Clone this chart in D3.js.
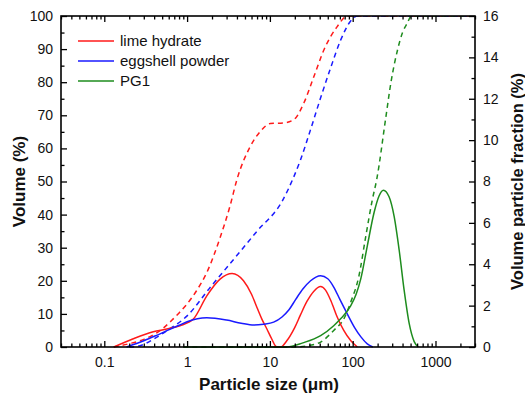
<!DOCTYPE html>
<html>
<head>
<meta charset="utf-8">
<script src="https://cdn.jsdelivr.net/npm/d3@7"></script>
<style>
  body { margin: 0; background: #fff; }
  text { font-family: "Liberation Sans", Arial, sans-serif; fill: #111; }
</style>
</head>
<body>
<div id="chart"></div>
<script>
// ---- data ----
const seriesNames = ['lime hydrate', 'eggshell powder', 'PG1'];
const seriesColors = ['#ff1a1a', '#1a1aff', '#1e8c1e'];

// particle fraction (%), right axis
const limeFreqX = [0.13, 0.22, 0.39, 0.57, 0.82, 1.19, 1.73, 2.5, 3.5, 4.8, 6, 7, 8, 9.2, 10.5, 11.7, 12.5, 13.5, 16, 20, 23.4, 28, 34, 41, 47, 55, 65, 78, 95, 114];
const limeFreqY = [0, 0.39, 0.74, 0.87, 1.03, 1.35, 2.47, 3.28, 3.55, 3.2, 2.55, 1.9, 1.35, 0.87, 0.4, 0.05, 0, 0, 0.3, 0.95, 1.55, 2.2, 2.7, 2.92, 2.75, 2.2, 1.45, 0.8, 0.3, 0];

const eggFreqX = [0.186, 0.3, 0.42, 0.57, 0.8, 1.0, 1.73, 3, 4.5, 6.4, 8.4, 11.1, 14, 17, 20.5, 25, 31, 36, 41, 50, 59, 70, 86, 105, 125, 150, 175];
const eggFreqY = [0, 0.3, 0.55, 0.79, 1.05, 1.22, 1.41, 1.3, 1.15, 1.06, 1.1, 1.2, 1.45, 1.8, 2.3, 2.8, 3.2, 3.38, 3.44, 3.3, 2.9, 2.3, 1.6, 0.95, 0.5, 0.15, 0];

const pgFreqX = [0.9, 16, 25, 41, 59, 71, 94.5, 110, 125, 150, 181, 208, 235, 275, 317, 364, 418, 481, 553, 619];
const pgFreqY = [0, 0, 0.2, 0.55, 1.03, 1.35, 1.99, 2.55, 3.28, 4.88, 6.49, 7.3, 7.58, 7.26, 6.3, 4.69, 2.75, 1.14, 0.26, 0];

// cumulative volume (%), left axis
const limeCumX = [0.13, 0.2, 0.3, 0.43, 0.52, 0.65, 0.8, 1.0, 1.3, 1.73, 2.5, 3.3, 4.0, 5.8, 7.7, 10.1, 14.7, 19.5, 25.7, 34, 45, 65, 86, 3000];
const limeCumY = [0, 1, 2.3, 4.3, 5.8, 8, 10.3, 13, 17, 22.5, 33, 42.6, 50.6, 60.6, 65.2, 67.5, 67.7, 68.7, 73.7, 81.7, 89.8, 96.8, 100, 100];

const eggCumX = [0.2, 0.27, 0.4, 0.57, 1.0, 1.9, 3.6, 7.0, 14.1, 19.2, 23.4, 30.9, 40.9, 54.1, 71.5, 94.6, 114.8, 3000];
const eggCumY = [0, 0.4, 2.5, 4.9, 9.4, 18, 26.3, 35, 44.1, 51.1, 56.5, 65.6, 75.2, 84.3, 92.7, 98.5, 100, 100];

const pgCumX = [0.9, 20, 30, 41, 59, 80, 94.5, 119, 144, 173, 195, 250, 290, 350, 400, 460, 510, 3000];
const pgCumY = [0, 0, 0.5, 1.5, 5, 9, 13.5, 21.5, 33.5, 44.6, 50.6, 69, 80, 90, 95, 98, 100, 100];

const xMajorTicks = [0.1, 1, 10, 100, 1000];
const yLeftTicks = [0, 10, 20, 30, 40, 50, 60, 70, 80, 90, 100];
const yRightTicks = [0, 2, 4, 6, 8, 10, 12, 14, 16];

const zip = (xs, ys) => xs.map((x, i) => ({x: x, y: ys[i]}));
const freqSeries = [zip(limeFreqX, limeFreqY), zip(eggFreqX, eggFreqY), zip(pgFreqX, pgFreqY)];
const cumSeries = [zip(limeCumX, limeCumY), zip(eggCumX, eggCumY), zip(pgCumX, pgCumY)];

// ---- layout ----
const W = 525, H = 396;
const margin = {top: 16, right: 50, bottom: 49, left: 61};
const plotW = W - margin.left - margin.right;
const plotH = H - margin.top - margin.bottom;

const svg = d3.select('#chart').append('svg')
    .attr('width', W)
    .attr('height', H);

const g = svg.append('g')
    .attr('transform', `translate(${margin.left},${margin.top})`);

const x = d3.scaleLog().domain([0.03, 3000]).range([0, plotW]);
const yL = d3.scaleLinear().domain([0, 100]).range([plotH, 0]);
const yR = d3.scaleLinear().domain([0, 16]).range([plotH, 0]);

const xMinor = x.ticks().filter(t => !xMajorTicks.some(m => Math.abs(m - t) < 1e-9));
const yLMinor = d3.range(5, 100, 10);
const yRMinor = d3.range(1, 16, 2);

// ---- curves ----
g.append('defs').append('clipPath').attr('id', 'clip')
    .append('rect').attr('width', plotW).attr('height', plotH + 1);

const plot = g.append('g').attr('clip-path', 'url(#clip)');

const lineL = d3.line().x(d => x(d.x)).y(d => yL(d.y)).curve(d3.curveMonotoneX);
const lineR = d3.line().x(d => x(d.x)).y(d => yR(d.y)).curve(d3.curveMonotoneX);

plot.selectAll('path.cum')
    .data(cumSeries)
    .enter().append('path')
    .attr('class', 'cum')
    .attr('d', lineL)
    .style('fill', 'none')
    .style('stroke', (d, i) => seriesColors[i])
    .style('stroke-width', 1.5)
    .style('stroke-dasharray', '5,4');

plot.selectAll('path.freq')
    .data(freqSeries)
    .enter().append('path')
    .attr('class', 'freq')
    .attr('d', lineR)
    .style('fill', 'none')
    .style('stroke', (d, i) => seriesColors[i])
    .style('stroke-width', 1.5);

// ---- axes (ticks point inward) ----
const styleAxis = sel => {
    sel.select('.domain').remove();
    sel.selectAll('line').style('stroke', '#000').style('stroke-width', 1.3);
    sel.selectAll('text').style('font-size', '14px').style('fill', '#111');
};

g.append('g').attr('transform', `translate(0,${plotH})`)
    .call(d3.axisBottom(x).tickValues(xMajorTicks).tickSize(-6).tickPadding(10)
        .tickFormat(d => d3.format('~g')(d)))
    .call(styleAxis);
g.append('g').attr('transform', `translate(0,${plotH})`)
    .call(d3.axisBottom(x).tickValues(xMinor).tickSize(-3.5).tickFormat(''))
    .call(styleAxis);
g.append('g')
    .call(d3.axisTop(x).tickValues(xMajorTicks).tickSize(-6).tickFormat(''))
    .call(styleAxis);
g.append('g')
    .call(d3.axisTop(x).tickValues(xMinor).tickSize(-3.5).tickFormat(''))
    .call(styleAxis);

g.append('g')
    .call(d3.axisLeft(yL).tickValues(yLeftTicks).tickSize(-6).tickPadding(8))
    .call(styleAxis);
g.append('g')
    .call(d3.axisLeft(yL).tickValues(yLMinor).tickSize(-3.5).tickFormat(''))
    .call(styleAxis);

g.append('g').attr('transform', `translate(${plotW},0)`)
    .call(d3.axisRight(yR).tickValues(yRightTicks).tickSize(-6).tickPadding(8))
    .call(styleAxis);
g.append('g').attr('transform', `translate(${plotW},0)`)
    .call(d3.axisRight(yR).tickValues(yRMinor).tickSize(-3.5).tickFormat(''))
    .call(styleAxis);

g.append('rect')
    .attr('width', plotW)
    .attr('height', plotH)
    .style('fill', 'none')
    .style('stroke', '#000')
    .style('stroke-width', 1.6);

// ---- titles ----
svg.append('text')
    .attr('transform', `translate(25,${margin.top + plotH / 2}) rotate(-90)`)
    .attr('text-anchor', 'middle')
    .style('font-size', '17px')
    .style('font-weight', 'bold')
    .text('Volume (%)');

svg.append('text')
    .attr('transform', `translate(523,${margin.top + plotH / 2}) rotate(-90)`)
    .attr('text-anchor', 'middle')
    .style('font-size', '16.5px')
    .style('font-weight', 'bold')
    .text('Volume particle fraction (%)');

svg.append('text')
    .attr('x', margin.left + plotW / 2 + 1)
    .attr('y', 390)
    .attr('text-anchor', 'middle')
    .style('font-size', '17px')
    .style('font-weight', 'bold')
    .text('Particle size (μm)');

// ---- legend ----
const legend = g.append('g').attr('transform', 'translate(17,25)');
const items = legend.selectAll('g')
    .data(seriesNames)
    .enter().append('g')
    .attr('transform', (d, i) => `translate(0,${i * 20})`);
items.append('line')
    .attr('x1', 0).attr('x2', 36)
    .style('stroke', (d, i) => seriesColors[i])
    .style('stroke-width', 1.5);
items.append('text')
    .attr('x', 42)
    .attr('dy', '0.35em')
    .style('font-size', '15px')
    .text(d => d);
</script>
</body>
</html>
